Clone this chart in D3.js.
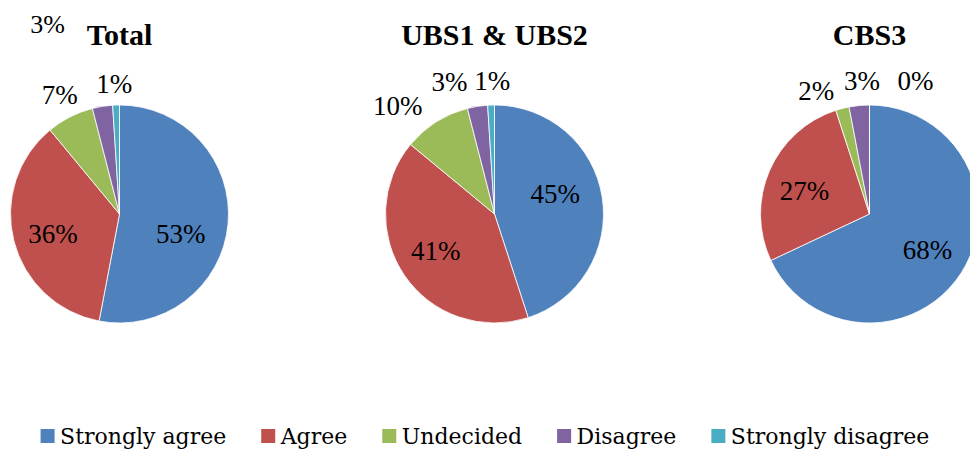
<!DOCTYPE html>
<html>
<head>
<meta charset="utf-8">
<script src="https://cdn.jsdelivr.net/npm/d3@7"></script>
<style>
  html, body { margin: 0; padding: 0; background: #fff; }
  svg { display: block; }
</style>
</head>
<body>
<svg id="chart" width="970" height="452"></svg>
<script>
// ---- data ----
const categories = ["Strongly agree", "Agree", "Undecided", "Disagree", "Strongly disagree"];
const chartTitles = ["Total", "UBS1 & UBS2", "CBS3"];
const totalValues = [53, 36, 7, 3, 1];
const ubsValues = [45, 41, 10, 3, 1];
const cbsValues = [68, 27, 2, 3, 0];
const seriesValues = [totalValues, ubsValues, cbsValues];

// ---- style / layout ----
const colors = ["#4F81BD", "#C0504D", "#9BBB59", "#8064A2", "#4BACC6"];
const radius = 109, cy = 214;
const insideFrac = 0.63, outsideGap = 25;
// Excel-style manual label nudges (pixels) per chart / slice
const labelNudge = [
  [[-7, 13], [0, 2], [1, 0], [-51, -58], [-1, 3]],
  [[-7, -10], [-2, -2], [-25, 5], [-24, 0], [2, 0]],
  [[0, -1], [-2, 4], [-20, 6], [5, 0], [46, 1]]
];

const svg = d3.select("#chart");
const xPos = d3.scalePoint().domain(chartTitles).range([119.5, 869.5]);
const color = d3.scaleOrdinal().domain(categories).range(colors);
const pie = d3.pie().sort(null).value(d => d.value);
const arc = d3.arc().innerRadius(0).outerRadius(radius);

chartTitles.forEach((title, ci) => {
  const cx = xPos(title);
  const g = svg.append("g").attr("transform", `translate(${cx},${cy})`);
  const data = categories.map((c, i) => ({ cat: c, value: seriesValues[ci][i] }));
  const arcs = pie(data);

  g.selectAll("path").data(arcs).enter().append("path")
    .attr("d", arc)
    .attr("fill", d => color(d.data.cat))
    .attr("stroke", "#ffffff")
    .attr("stroke-width", 0.8);

  g.selectAll("text.lbl").data(arcs).enter().append("text")
    .attr("class", "lbl")
    .attr("transform", (d, i) => {
      const a = (d.startAngle + d.endAngle) / 2;
      const big = d.data.value >= 20;
      const rr = big ? radius * insideFrac : radius + outsideGap;
      const n = labelNudge[ci][i];
      return `translate(${Math.sin(a) * rr + n[0]},${-Math.cos(a) * rr + n[1]})`;
    })
    .attr("text-anchor", "middle")
    .attr("dy", "0.35em")
    .attr("font-family", "'Liberation Serif', serif")
    .attr("font-size", (d, i) => (ci === 0 && i === 3) ? 26 : 27)
    .attr("fill", "#000")
    .text(d => d.data.value + "%");

  svg.append("text")
    .attr("x", cx)
    .attr("y", 45)
    .attr("text-anchor", "middle")
    .attr("font-family", "'Liberation Serif', serif")
    .attr("font-weight", "bold")
    .attr("font-size", 30)
    .attr("fill", "#000")
    .text(title);
});

// ---- legend ----
const legend = svg.append("g");
const items = legend.selectAll("g.item").data(categories).enter().append("g").attr("class", "item");
items.append("rect")
  .attr("width", 14).attr("height", 14)
  .attr("y", 429)
  .attr("fill", d => color(d));
items.append("text")
  .attr("y", 444)
  .attr("font-family", "'DejaVu Serif', serif")
  .attr("font-size", 22)
  .attr("fill", "#000")
  .text(d => d);

let x = 0;
const positions = [];
items.each(function () {
  const t = d3.select(this).select("text").node().getComputedTextLength();
  positions.push(x);
  x += 19.5 + t + 35;
});
const totalW = x - 35;
const startX = 485 - totalW / 2;
items.each(function (d, i) {
  const s = startX + positions[i];
  d3.select(this).select("rect").attr("x", s);
  d3.select(this).select("text").attr("x", s + 19.5);
});
</script>
</body>
</html>
